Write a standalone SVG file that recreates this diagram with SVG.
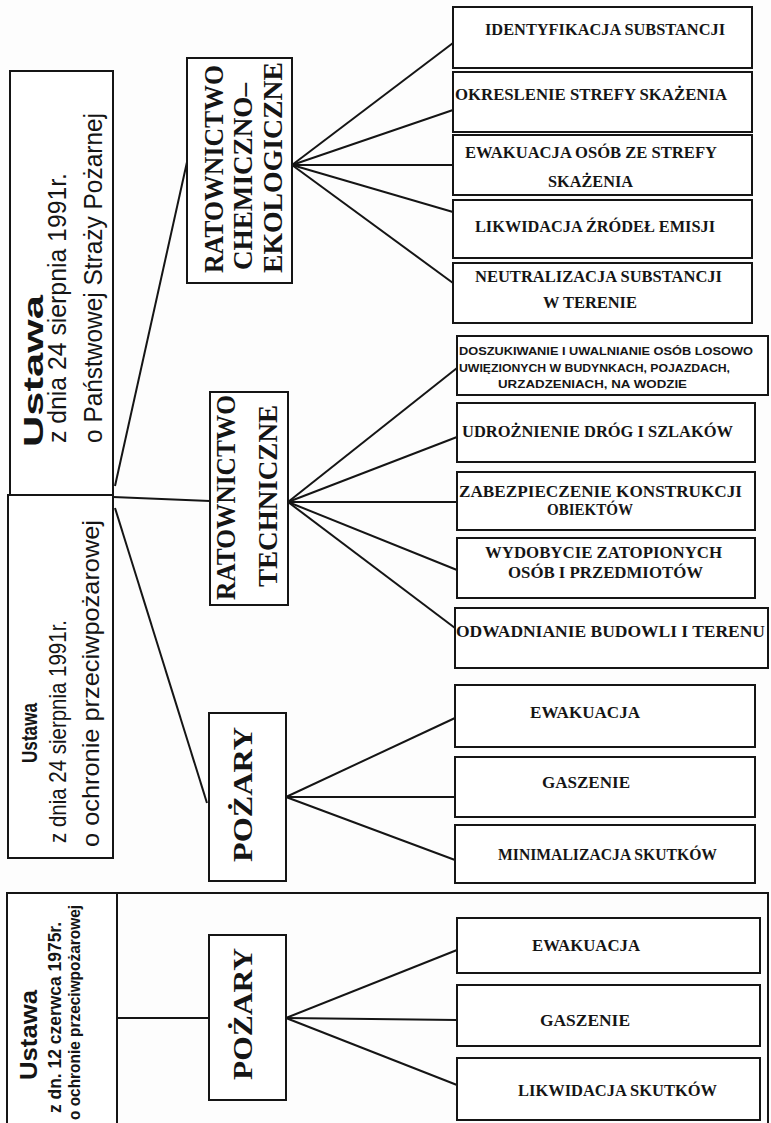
<svg xmlns="http://www.w3.org/2000/svg" width="771" height="1123" viewBox="0 0 771 1123">
<style>
.box{fill:#fff;stroke:#151515;stroke-width:2}
.ln{stroke:#151515;stroke-width:2;fill:none}
.lawb{font-family:"Liberation Sans Narrow","Liberation Sans",sans-serif;font-weight:bold;fill:#151515}
.law{font-family:"Liberation Sans Narrow","Liberation Sans",sans-serif;fill:#151515}
.cat{font-family:"Liberation Serif",serif;font-weight:bold;font-size:28px;fill:#151515}
.item{font-family:"Liberation Serif",serif;font-weight:bold;font-size:16px;fill:#151515}
.small{font-family:"Liberation Sans",sans-serif;font-weight:bold;font-size:11px;fill:#151515}
</style>
<rect x="0" y="0" width="771" height="1123" fill="#fdfdfd"/>
<g id="connectors">
<line class="ln" x1="113" y1="497" x2="210" y2="501"/>
<line class="ln" x1="115" y1="486" x2="187" y2="162"/>
<line class="ln" x1="115" y1="508" x2="207" y2="803"/>
<line class="ln" x1="292" y1="165" x2="453" y2="43"/>
<line class="ln" x1="292" y1="165" x2="453" y2="110"/>
<line class="ln" x1="292" y1="165" x2="453" y2="165"/>
<line class="ln" x1="292" y1="165" x2="453" y2="212"/>
<line class="ln" x1="292" y1="165" x2="453" y2="283"/>
<line class="ln" x1="288" y1="502" x2="457" y2="368"/>
<line class="ln" x1="288" y1="502" x2="457" y2="437"/>
<line class="ln" x1="288" y1="502" x2="457" y2="502"/>
<line class="ln" x1="288" y1="502" x2="457" y2="570"/>
<line class="ln" x1="288" y1="502" x2="455" y2="628"/>
<line class="ln" x1="286" y1="797" x2="455" y2="718"/>
<line class="ln" x1="286" y1="797" x2="455" y2="797"/>
<line class="ln" x1="286" y1="797" x2="455" y2="860"/>
<line class="ln" x1="286" y1="1018" x2="457" y2="950"/>
<line class="ln" x1="286" y1="1018" x2="457" y2="1020"/>
<line class="ln" x1="286" y1="1018" x2="457" y2="1085"/>
<line class="ln" x1="117" y1="1018" x2="209" y2="1018"/>
<path class="ln" d="M117,893 H768 V1123"/>
</g>
<g id="law-1991-psp">
<rect class="box" x="10" y="71" width="103" height="424"/>
<text class="lawb" font-size="28" transform="translate(43,447) rotate(-90)" textLength="152" lengthAdjust="spacingAndGlyphs">Ustawa</text>
<text class="law" font-size="25" transform="translate(66,443) rotate(-90)" textLength="270" lengthAdjust="spacingAndGlyphs">z dnia 24 sierpnia 1991r.</text>
<text class="law" font-size="25" transform="translate(102,443) rotate(-90)" textLength="330" lengthAdjust="spacingAndGlyphs">o Państwowej Straży Pożarnej</text>
</g>
<g id="law-1991-ochrona">
<rect class="box" x="8" y="495" width="105" height="363"/>
<text class="lawb" font-size="22" transform="translate(37,763) rotate(-90)" textLength="60" lengthAdjust="spacingAndGlyphs">Ustawa</text>
<text class="law" font-size="24" transform="translate(66,843) rotate(-90)" textLength="223" lengthAdjust="spacingAndGlyphs">z dnia 24 sierpnia 1991r.</text>
<text class="law" font-size="24" transform="translate(99,847) rotate(-90)" textLength="327" lengthAdjust="spacingAndGlyphs">o ochronie przeciwpożarowej</text>
</g>
<g id="law-1975">
<path class="box" d="M7,1123 V893 H117 V1123"/>
<text class="lawb" font-size="24" transform="translate(37,1080) rotate(-90)" textLength="90" lengthAdjust="spacingAndGlyphs">Ustawa</text>
<text class="law" font-size="18" font-weight="bold" transform="translate(61,1113) rotate(-90)" textLength="191" lengthAdjust="spacingAndGlyphs">z dn. 12 czerwca 1975r.</text>
<text class="law" font-size="16" font-weight="bold" transform="translate(80,1120) rotate(-90)" textLength="215" lengthAdjust="spacingAndGlyphs">o ochronie przeciwpożarowej</text>
</g>
<g id="ratownictwo-chem">
<rect class="box" x="187" y="58" width="105" height="225"/>
<text class="cat" transform="translate(223,273) rotate(-90)" textLength="208" lengthAdjust="spacingAndGlyphs">RATOWNICTWO</text>
<text class="cat" transform="translate(252,270) rotate(-90)" textLength="187" lengthAdjust="spacingAndGlyphs">CHEMICZNO–</text>
<text class="cat" transform="translate(282,273) rotate(-90)" textLength="211" lengthAdjust="spacingAndGlyphs">EKOLOGICZNE</text>
</g>
<g id="ratownictwo-tech">
<rect class="box" x="210" y="392" width="78" height="213"/>
<text class="cat" transform="translate(235,600) rotate(-90)" textLength="205" lengthAdjust="spacingAndGlyphs">RATOWNICTWO</text>
<text class="cat" transform="translate(277,587) rotate(-90)" textLength="182" lengthAdjust="spacingAndGlyphs">TECHNICZNE</text>
</g>
<g id="pozary-1">
<rect class="box" x="209" y="713" width="77" height="168"/>
<text class="cat" font-size="25" transform="translate(252,862) rotate(-90)" textLength="135" lengthAdjust="spacingAndGlyphs">POŻARY</text>
</g>
<g id="pozary-2">
<rect class="box" x="209" y="935" width="77" height="165"/>
<text class="cat" font-size="25" transform="translate(252,1080) rotate(-90)" textLength="132" lengthAdjust="spacingAndGlyphs">POŻARY</text>
</g>
<g id="identyfikacja">
<rect class="box" x="453" y="7" width="299" height="61"/>
<text class="item" x="485" y="35" textLength="240" lengthAdjust="spacingAndGlyphs">IDENTYFIKACJA SUBSTANCJI</text>
</g>
<g id="okreslenie">
<rect class="box" x="453" y="72" width="299" height="60"/>
<text class="item" x="455" y="100" textLength="272" lengthAdjust="spacingAndGlyphs">OKRESLENIE STREFY SKAŻENIA</text>
</g>
<g id="ewakuacja-osob">
<rect class="box" x="453" y="135" width="299" height="60"/>
<text class="item" x="465" y="158" textLength="252" lengthAdjust="spacingAndGlyphs">EWAKUACJA OSÓB ZE STREFY</text>
<text class="item" x="548" y="187" textLength="85" lengthAdjust="spacingAndGlyphs">SKAŻENIA</text>
</g>
<g id="likwidacja-zrodel">
<rect class="box" x="453" y="200" width="299" height="58"/>
<text class="item" x="475" y="232" textLength="240" lengthAdjust="spacingAndGlyphs">LIKWIDACJA ŹRÓDEŁ EMISJI</text>
</g>
<g id="neutralizacja">
<rect class="box" x="453" y="263" width="299" height="60"/>
<text class="item" x="475" y="282" textLength="247" lengthAdjust="spacingAndGlyphs">NEUTRALIZACJA SUBSTANCJI</text>
<text class="item" x="543" y="308" textLength="94" lengthAdjust="spacingAndGlyphs">W TERENIE</text>
</g>
<g id="doszukiwanie">
<rect class="box" x="457" y="336" width="311" height="59"/>
<text class="small" x="459" y="355" textLength="294" lengthAdjust="spacingAndGlyphs">DOSZUKIWANIE I UWALNIANIE OSÓB LOSOWO</text>
<text class="small" x="459" y="372" textLength="271" lengthAdjust="spacingAndGlyphs">UWIĘZIONYCH W BUDYNKACH, POJAZDACH,</text>
<text class="small" x="498" y="388" textLength="189" lengthAdjust="spacingAndGlyphs">URZADZENIACH, NA WODZIE</text>
</g>
<g id="udroznienie">
<rect class="box" x="457" y="403" width="298" height="59"/>
<text class="item" x="462" y="437" textLength="271" lengthAdjust="spacingAndGlyphs">UDROŻNIENIE DRÓG I SZLAKÓW</text>
</g>
<g id="zabezpieczenie">
<rect class="box" x="457" y="472" width="298" height="58"/>
<text class="item" x="459" y="497" textLength="283" lengthAdjust="spacingAndGlyphs">ZABEZPIECZENIE KONSTRUKCJI</text>
<text class="item" x="547" y="515" textLength="86" lengthAdjust="spacingAndGlyphs">OBIEKTÓW</text>
</g>
<g id="wydobycie">
<rect class="box" x="457" y="538" width="298" height="60"/>
<text class="item" x="485" y="558" textLength="237" lengthAdjust="spacingAndGlyphs">WYDOBYCIE ZATOPIONYCH</text>
<text class="item" x="508" y="578" textLength="195" lengthAdjust="spacingAndGlyphs">OSÓB I PRZEDMIOTÓW</text>
</g>
<g id="odwadnianie">
<rect class="box" x="455" y="608" width="313" height="60"/>
<text class="item" x="456" y="637" textLength="309" lengthAdjust="spacingAndGlyphs">ODWADNIANIE BUDOWLI I TERENU</text>
</g>
<g id="ewakuacja-1">
<rect class="box" x="455" y="685" width="300" height="62"/>
<text class="item" x="530" y="718" textLength="110" lengthAdjust="spacingAndGlyphs">EWAKUACJA</text>
</g>
<g id="gaszenie-1">
<rect class="box" x="455" y="757" width="300" height="60"/>
<text class="item" x="542" y="788" textLength="88" lengthAdjust="spacingAndGlyphs">GASZENIE</text>
</g>
<g id="minimalizacja">
<rect class="box" x="455" y="825" width="300" height="58"/>
<text class="item" x="498" y="860" textLength="219" lengthAdjust="spacingAndGlyphs">MINIMALIZACJA SKUTKÓW</text>
</g>
<g id="ewakuacja-2">
<rect class="box" x="457" y="918" width="303" height="55"/>
<text class="item" x="532" y="951" textLength="108" lengthAdjust="spacingAndGlyphs">EWAKUACJA</text>
</g>
<g id="gaszenie-2">
<rect class="box" x="457" y="985" width="303" height="61"/>
<text class="item" x="540" y="1026" textLength="90" lengthAdjust="spacingAndGlyphs">GASZENIE</text>
</g>
<g id="likwidacja-skutkow">
<rect class="box" x="457" y="1058" width="303" height="62"/>
<text class="item" x="518" y="1096" textLength="199" lengthAdjust="spacingAndGlyphs">LIKWIDACJA SKUTKÓW</text>
</g>
</svg>
